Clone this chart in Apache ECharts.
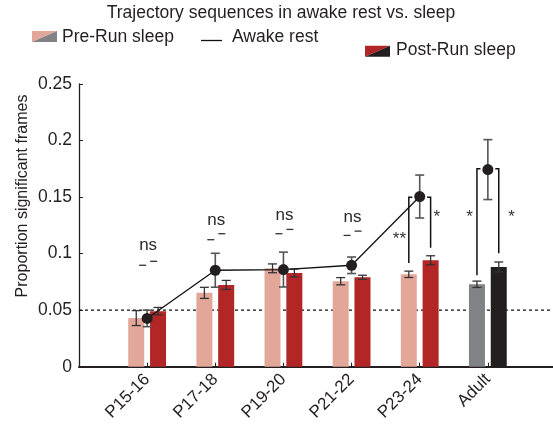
<!DOCTYPE html>
<html>
<head>
<meta charset="utf-8">
<script src="https://cdn.jsdelivr.net/npm/echarts@6.0.0/dist/echarts.min.js"></script>
<style>html,body{margin:0;padding:0;background:#fff}#c{width:553px;height:429px}</style>
</head>
<body>
<div id="c"></div>
<script>
// ---- data ----
const categories = ['P15-16', 'P17-18', 'P19-20', 'P21-22', 'P23-24', 'Adult'];
const groupKind  = ['juvenile', 'juvenile', 'juvenile', 'juvenile', 'juvenile', 'adult'];
const preRun     = [0.043, 0.0653, 0.087, 0.0756, 0.0817, 0.0729];
const preRunErr  = [0.0066, 0.0049, 0.0039, 0.0032, 0.0028, 0.0028];
const postRun    = [0.0491, 0.0723, 0.0829, 0.0791, 0.0941, 0.0882];
const postRunErr = [0.0033, 0.004, 0.0035, 0.0018, 0.004, 0.0044];
const awake      = [0.0427, 0.0853, 0.0859, 0.0897, 0.1505, 0.1743];
const awakeErr   = [0.0073, 0.015, 0.0154, 0.0073, 0.019, 0.0265];
const yTicks     = [0, 0.05, 0.1, 0.15, 0.2, 0.25];
const threshold  = 0.05;
// "ns" comparisons (first four groups)
const nsLabelY   = [0.1056, 0.1279, 0.1323, 0.1311];
const nsDashLowY = [0.0897, 0.1123, 0.1176, 0.1161];
const nsDashHiY  = [0.0932, 0.1176, 0.1214, 0.1199];
// bracketed comparisons
const bracketCat     = [5, 6];
const bracketTopY    = [0.1499, 0.175];
const bracketLeftY   = [0.0917, 0.0809];
const bracketRightY  = [0.1053, 0.1003];
const leftStars      = ['**', '*'];
const rightStars     = ['*', '*'];
const leftStarY      = [0.1124, 0.132];
const rightStarY     = [0.132, 0.132];
const leftStarDx     = [-0.298, -0.27];
const rightStarDx    = [0.252, 0.349];

// ---- styles ----
const FONT = '"Liberation Sans", Arial, Helvetica, sans-serif';
const INK = '#231F20';
const PINK = '#E3A799', RED = '#B32626', GREY = '#818286', BLACK = '#231F20';
const BAR_W = 0.235, BAR_OFF = 0.16;
const preColor = i => groupKind[i] === 'adult' ? GREY : PINK;
const postColor = i => groupKind[i] === 'adult' ? BLACK : RED;

function barSeries(name, values, errs, offset, colorFn) {
  return {
    type: 'custom', name: name, z: 3, clip: false,
    data: values.map((v, i) => [i + 1, v, errs[i]]),
    encode: { x: 0, y: 1 },
    renderItem: (params, api) => {
      const i = params.dataIndex;
      const x = api.value(0), v = api.value(1), e = api.value(2);
      const p0 = api.coord([x + offset - BAR_W / 2, v]);
      const p1 = api.coord([x + offset + BAR_W / 2, 0]);
      const cx = api.coord([x + offset, 0])[0];
      const yHi = api.coord([x, v + e])[1], yLo = api.coord([x, v - e])[1];
      const st = { stroke: '#333', lineWidth: 1.3 };
      return { type: 'group', children: [
        { type: 'rect', shape: { x: p0[0], y: p0[1], width: p1[0] - p0[0], height: p1[1] - p0[1] }, style: { fill: colorFn(i) } },
        { type: 'line', shape: { x1: cx, y1: yHi, x2: cx, y2: yLo }, style: st },
        { type: 'line', shape: { x1: cx - 4.5, y1: yHi, x2: cx + 4.5, y2: yHi }, style: st },
        { type: 'line', shape: { x1: cx - 4.5, y1: yLo, x2: cx + 4.5, y2: yLo }, style: st }
      ]};
    }
  };
}

const chart = echarts.init(document.getElementById('c'), null, { renderer: 'canvas' });

const option = {
  animation: false,
  grid: { left: 79, right: -3, top: 84, bottom: 62.3, containLabel: false, outerBoundsMode: 'none' },
  xAxis: {
    type: 'value', min: 0, max: categories.length + 1, interval: 1,
    splitLine: { show: false },
    axisLine: { show: true, onZero: false, lineStyle: { color: INK, width: 2 } },
    axisTick: { show: true, inside: true, length: 4, lineStyle: { color: INK, width: 1 } },
    axisLabel: { rotate: 45, margin: 10, fontSize: 17, color: INK, fontFamily: FONT,
      formatter: v => categories[v - 1] || '' }
  },
  yAxis: {
    type: 'value', min: yTicks[0], max: yTicks[yTicks.length - 1], interval: yTicks[1] - yTicks[0],
    splitLine: { show: false },
    axisLine: { show: true, lineStyle: { color: INK, width: 1.3 } },
    axisTick: { show: true, inside: true, length: 4, lineStyle: { color: INK, width: 1 } },
    axisLabel: { margin: 7, fontSize: 17.5, color: INK, fontFamily: FONT }
  },
  series: [
    { // threshold dotted line
      type: 'custom', name: 'chance', z: 1, clip: false,
      data: [[0, threshold]], encode: { x: 0, y: 1 },
      renderItem: (params, api) => {
        const a = api.coord([0, api.value(1)]);
        const b = api.coord([categories.length + 1, api.value(1)]);
        return { type: 'line', shape: { x1: a[0], y1: a[1], x2: b[0], y2: b[1] },
          style: { stroke: '#111', lineWidth: 1.2, lineDash: [3, 3] } };
      }
    },
    barSeries('Pre-Run sleep', preRun, preRunErr, -BAR_OFF, preColor),
    barSeries('Post-Run sleep', postRun, postRunErr, BAR_OFF, postColor),
    { // awake error bars
      type: 'custom', name: 'awakeErr', z: 4, clip: false,
      data: awake.map((v, i) => [i + 1, v, awakeErr[i]]), encode: { x: 0, y: 1 },
      renderItem: (params, api) => {
        const x = api.value(0), v = api.value(1), e = api.value(2);
        const t = api.coord([x, v + e]), b = api.coord([x, v - e]);
        const st = { stroke: '#555', lineWidth: 1.6 };
        return { type: 'group', children: [
          { type: 'line', shape: { x1: t[0], y1: t[1], x2: b[0], y2: b[1] }, style: st },
          { type: 'line', shape: { x1: t[0] - 4.5, y1: t[1], x2: t[0] + 4.5, y2: t[1] }, style: st },
          { type: 'line', shape: { x1: b[0] - 4.5, y1: b[1], x2: b[0] + 4.5, y2: b[1] }, style: st }
        ]};
      }
    },
    {
      type: 'line', name: 'Awake rest', z: 5,
      data: awake.slice(0, 5).map((v, i) => [i + 1, v]),
      symbol: 'circle', symbolSize: 11, showSymbol: true,
      itemStyle: { color: INK, opacity: 1 }, lineStyle: { color: '#111', width: 1.3 }
    },
    {
      type: 'scatter', name: 'Awake rest adult', z: 5,
      data: [[6, awake[5]]], symbol: 'circle', symbolSize: 11, itemStyle: { color: INK, opacity: 1 }
    },
    { // ns annotations
      type: 'custom', name: 'ns', z: 6, clip: false,
      data: nsLabelY.map((y, i) => [i + 1, y, nsDashLowY[i], nsDashHiY[i]]), encode: { x: 0, y: 1 },
      renderItem: (params, api) => {
        const x = api.value(0);
        const t = api.coord([x, api.value(1)]);
        const lo = api.coord([x, api.value(2)]);
        const hi = api.coord([x, api.value(3)]);
        const st = { stroke: '#333', lineWidth: 1.3 };
        return { type: 'group', children: [
          { type: 'text', x: t[0] + 1, y: t[1] - 1.5,
            style: { text: 'ns', textAlign: 'center', textVerticalAlign: 'middle', font: '17px ' + FONT, fill: '#2b2b2b' } },
          { type: 'line', shape: { x1: lo[0] - 8, y1: lo[1], x2: lo[0] - 1, y2: lo[1] }, style: st },
          { type: 'line', shape: { x1: hi[0] + 3, y1: hi[1], x2: hi[0] + 10, y2: hi[1] }, style: st }
        ]};
      }
    },
    { // brackets with stars
      type: 'custom', name: 'sig', z: 6, clip: false,
      data: bracketCat.map((c, i) => [c, bracketTopY[i], bracketLeftY[i], bracketRightY[i], leftStarY[i], rightStarY[i], leftStarDx[i], rightStarDx[i]]),
      encode: { x: 0, y: 1 },
      renderItem: (params, api) => {
        const i = params.dataIndex;
        const x = api.value(0);
        const lTop = api.coord([x - BAR_OFF, api.value(1)]);
        const lBot = api.coord([x - BAR_OFF, api.value(2)]);
        const rTop = api.coord([x + BAR_OFF, api.value(1)]);
        const rBot = api.coord([x + BAR_OFF, api.value(3)]);
        const ls = api.coord([x + api.value(6), api.value(4)]);
        const rs = api.coord([x + api.value(7), api.value(5)]);
        const st = { stroke: '#111', lineWidth: 1.5 };
        const tf = { textAlign: 'center', textVerticalAlign: 'middle', font: '17px ' + FONT, fill: '#333' };
        return { type: 'group', children: [
          { type: 'polyline', shape: { points: [[lBot[0], lBot[1]], [lTop[0], lTop[1]], [lTop[0] + 3.5, lTop[1]]] }, style: Object.assign({ fill: null }, st) },
          { type: 'polyline', shape: { points: [[rBot[0], rBot[1]], [rTop[0], rTop[1]], [rTop[0] - 3.5, rTop[1]]] }, style: Object.assign({ fill: null }, st) },
          { type: 'text', x: ls[0], y: ls[1], style: Object.assign({ text: leftStars[i] }, tf) },
          { type: 'text', x: rs[0], y: rs[1], style: Object.assign({ text: rightStars[i] }, tf) }
        ]};
      }
    }
  ],
  graphic: [
    { type: 'text', x: 281, y: 13, style: { text: 'Trajectory sequences in awake rest vs. sleep', textAlign: 'center', textVerticalAlign: 'middle', font: '17.5px ' + FONT, fill: INK } },
    { type: 'polygon', shape: { points: [[32, 31], [57, 31], [32, 42]] }, style: { fill: PINK } },
    { type: 'polygon', shape: { points: [[57, 31], [57, 42], [32, 42]] }, style: { fill: GREY } },
    { type: 'text', x: 62, y: 37, style: { text: 'Pre-Run sleep', textAlign: 'left', textVerticalAlign: 'middle', font: '17.5px ' + FONT, fill: INK } },
    { type: 'line', shape: { x1: 201, y1: 40.5, x2: 222, y2: 40.5 }, style: { stroke: '#111', lineWidth: 1.3 } },
    { type: 'text', x: 232, y: 37, style: { text: 'Awake rest', textAlign: 'left', textVerticalAlign: 'middle', font: '17.5px ' + FONT, fill: INK } },
    { type: 'polygon', shape: { points: [[365, 45.7], [390, 45.7], [365, 56.7]] }, style: { fill: RED } },
    { type: 'polygon', shape: { points: [[390, 45.7], [390, 56.7], [365, 56.7]] }, style: { fill: BLACK } },
    { type: 'text', x: 396, y: 49.7, style: { text: 'Post-Run sleep', textAlign: 'left', textVerticalAlign: 'middle', font: '17.5px ' + FONT, fill: INK } },
    { type: 'text', x: 23, y: 196, rotation: Math.PI / 2, style: { text: 'Proportion significant frames', textAlign: 'center', textVerticalAlign: 'middle', font: '16px ' + FONT, fill: INK } }
  ]
};
chart.setOption(option);
</script>
</body>
</html>
